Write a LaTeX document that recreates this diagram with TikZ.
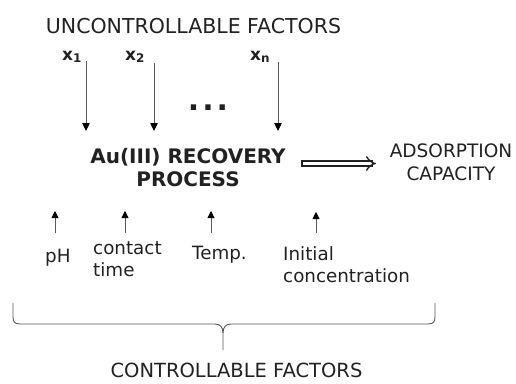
\documentclass[tikz,border=0pt]{standalone}
\usepackage{fontspec}
\setmainfont{DejaVu Sans}
\usetikzlibrary{arrows.meta}
\definecolor{ink}{rgb}{0.13,0.13,0.13}
\definecolor{linegray}{rgb}{0.35,0.35,0.35}

\begin{document}
\begin{tikzpicture}[x=1pt,y=-1pt,
    lbl/.style={inner sep=0pt, text=ink, font=\fontsize{18.3}{22}\selectfont},
    head/.style={inner sep=0pt, text=ink, font=\fontsize{19.5}{23}\selectfont},
    var/.style={inner sep=0pt, text=ink, font=\bfseries\fontsize{17}{20}\selectfont},
    downarr/.style={linegray, line width=0.8pt, -{Triangle[length=8pt,width=7.5pt,color=black]}},
    uparr/.style={linegray, line width=0.8pt, -{Triangle[length=7pt,width=7pt,color=black]}}]
    \useasboundingbox (0,0) rectangle (516,383);

    % uncontrollable factors
    \node[head, font=\fontsize{20.5}{24}\selectfont, anchor=base] (unc) at (193.5,33) {UNCONTROLLABLE FACTORS};
    \node[var, anchor=base west] (x1) at (62,60) {x\textsubscript{1}};
    \node[var, anchor=base west] (x2) at (125,60) {x\textsubscript{2}};
    \node[var, anchor=base west] (xn) at (250,60) {x\textsubscript{n}};
    \node[var, font=\bfseries\fontsize{30}{30}\selectfont, anchor=base] (dots) at (208,110) {.\kern3pt.\kern3pt.};

    % arrows into the process
    \coordinate (x1a) at (86,61);  \coordinate (x1b) at (86,131);
    \coordinate (x2a) at (154,63); \coordinate (x2b) at (154,131);
    \coordinate (xna) at (278,62); \coordinate (xnb) at (278,131);
    \draw[downarr] (x1a) -- (x1b);
    \draw[downarr] (x2a) -- (x2b);
    \draw[downarr] (xna) -- (xnb);

    % process and response
    \node[var, font=\bfseries\fontsize{20}{23}\selectfont, align=center] (proc) at (188,168) {Au(III) RECOVERY\\PROCESS};
    \node[lbl, font=\fontsize{18.5}{23}\selectfont, align=center] (resp) at (451,162.5) {ADSORPTION\\CAPACITY};
    \coordinate (impA) at (304.5,163.5); \coordinate (impB) at (376,163.5);
    \draw[ink, line width=1.3pt, line cap=rect, double distance=3.8pt, -{Implies[length=7pt,width=16pt]}] (impA) -- (impB);

    % controllable factors
    \node[lbl, anchor=base west] (ph) at (45,262) {pH};
    \node[lbl, anchor=north west, align=left] (ctime) at (93,241) {contact\\time};
    \node[lbl, anchor=base west] (temp) at (192,259) {Temp.};
    \node[lbl, anchor=north west, align=left] (conc) at (283,246) {Initial\\concentration};
    \coordinate (pha) at (55,233);  \coordinate (phb) at (55,211);
    \coordinate (cta) at (125,233); \coordinate (ctb) at (125,211);
    \coordinate (tpa) at (211,233); \coordinate (tpb) at (211,211);
    \coordinate (cna) at (316,233); \coordinate (cnb) at (316,212);
    \draw[uparr] (pha) -- (phb);
    \draw[uparr] (cta) -- (ctb);
    \draw[uparr] (tpa) -- (tpb);
    \draw[uparr] (cna) -- (cnb);

    % brace
    \draw[linegray, line width=0.9pt] (13,303) -- (13,317) .. controls (13,322) and (15,324) .. (20,324)
        -- (215,324) .. controls (220,324) and (223,327) .. (223,333) -- (223,350);
    \draw[linegray, line width=0.9pt] (435,303) -- (435,317) .. controls (435,322) and (433,324) .. (428,324)
        -- (231,324) .. controls (226,324) and (223,327) .. (223,333);
    \node[head, anchor=base] (ctrl) at (236.5,377.5) {CONTROLLABLE FACTORS};
\end{tikzpicture}
\end{document}
